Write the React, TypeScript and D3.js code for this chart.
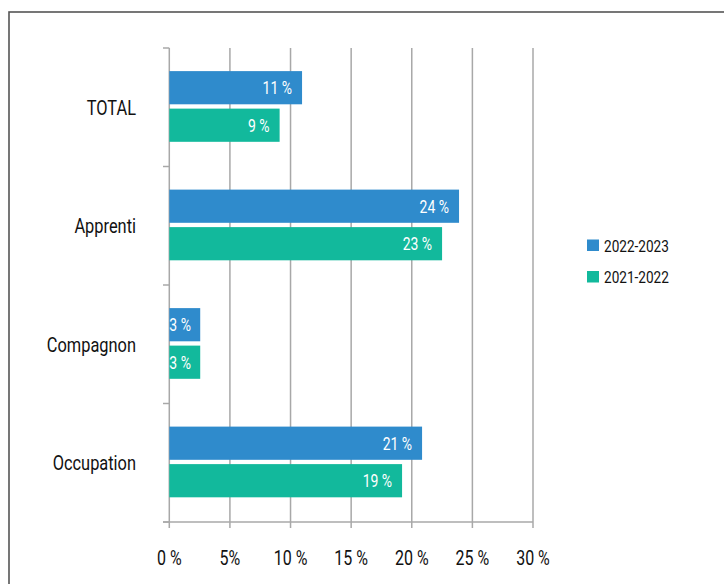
import React from "react";
import * as d3 from "d3";

const categories = ["TOTAL", "Apprenti", "Compagnon", "Occupation"];
const seriesNames = ["2022-2023", "2021-2022"];
const values2223 = [10.95, 23.9, 2.55, 20.85];
const values2122 = [9.1, 22.5, 2.55, 19.2];
const labels2223 = ["11 %", "24 %", "3 %", "21 %"];
const labels2122 = ["9 %", "23 %", "3 %", "19 %"];
const xTickValues = [0, 5, 10, 15, 20, 25, 30];
const xTickLabels = ["0 %", "5%", "10 %", "15 %", "20 %", "25 %", "30 %"];

const COLORS = ["#2F8BCC", "#12B99C"];
const FONT = "Roboto, 'Noto Sans', sans-serif";
const SX = 0.8;

function T(props: { x: number; y: number; anchor?: string; size: number; fill: string; children: React.ReactNode; dy?: string }) {
  return (
    <text
      transform={`translate(${props.x},${props.y}) scale(${SX},1)`}
      dy={props.dy}
      textAnchor={props.anchor || "start"}
      fontSize={props.size}
      fill={props.fill}
    >
      {props.children}
    </text>
  );
}

export default function App() {
  const W = 724, H = 584;
  const x = d3.scaleLinear().domain([0, 30]).range([169.3, 533]);
  const y = d3.scaleBand<string>().domain(categories).range([48, 522]).paddingInner(0).paddingOuter(0);
  const bw = y.bandwidth();
  const inner = d3.scaleBand<string>().domain(seriesNames).range([bw * 0.195, bw * 0.195 + 70.7]).paddingInner(0.115).paddingOuter(0);
  const seriesVals = [values2223, values2122];
  const seriesLabels = [labels2223, labels2122];
  const gridColor = "#A8A8A8";
  const axisBottom = 522;

  return (
    <svg width={W} height={H} style={{ position: "absolute", left: 0, top: 0 }} fontFamily={FONT}>
      <rect x={0} y={0} width={W} height={H} fill="#fff" />
      <rect x={9} y={12} width={W + 20} height={H + 20} fill="none" stroke="#555" strokeWidth={1.6} />
      {xTickValues.map((t) => (
        <line key={"g" + t} x1={x(t)} x2={x(t)} y1={48} y2={axisBottom + 6} stroke={gridColor} strokeWidth={1.5} />
      ))}
      <line x1={163} x2={x(30)} y1={axisBottom} y2={axisBottom} stroke={gridColor} strokeWidth={1.5} />
      {[...categories.map((c) => y(c)!), 522].map((v, i) => (
        <line key={"yt" + i} x1={163} x2={x(0)} y1={v} y2={v} stroke={gridColor} strokeWidth={1.5} />
      ))}
      {categories.map((c, ci) =>
        seriesNames.map((s, si) => {
          const by = y(c)! + inner(s)!;
          const bh = inner.bandwidth();
          const v = seriesVals[si][ci];
          const w = x(v) - x(0);
          const short = w < 40;
          return (
            <g key={c + s}>
              <rect x={x(0)} y={by} width={w} height={bh} fill={COLORS[si]} />
              <T x={short ? x(0) : x(v) - 10} y={by + bh / 2} dy="0.36em" anchor={short ? "start" : "end"} fill="#fff" size={17.5}>
                {seriesLabels[si][ci]}
              </T>
            </g>
          );
        })
      )}
      {categories.map((c) => (
        <T key={"c" + c} x={136} y={y(c)! + bw / 2} dy="0.36em" anchor="end" fill="#111" size={20.5}>
          {c}
        </T>
      ))}
      {xTickValues.map((t, i) => (
        <T key={"xl" + t} x={x(t)} y={565} anchor="middle" fill="#111" size={20}>
          {xTickLabels[i]}
        </T>
      ))}
      {seriesNames.map((s, i) => (
        <g key={"lg" + s} transform={`translate(587, ${239.5 + i * 31.5})`}>
          <rect x={0} y={0} width={12} height={11.5} fill={COLORS[i]} />
          <T x={17} y={6} dy="0.36em" fill="#111" size={17}>
            {s}
          </T>
        </g>
      ))}
    </svg>
  );
}
